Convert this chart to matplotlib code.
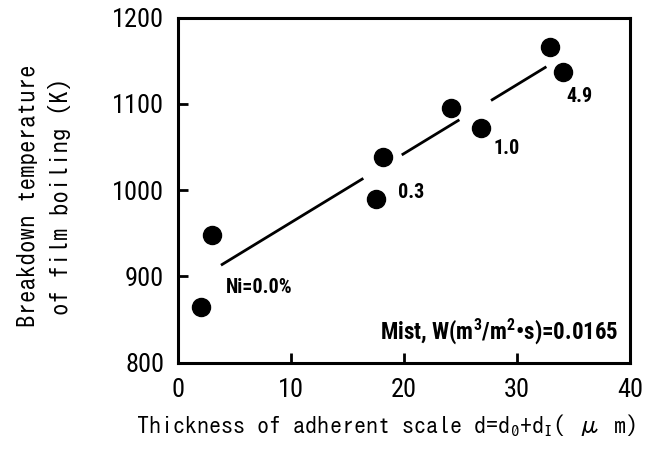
import matplotlib
matplotlib.use('Agg')
import matplotlib.pyplot as plt
import numpy as np

# measured points (thickness um, temperature K)
thickness = [2.0, 3.0, 17.5, 18.1, 24.2, 26.8, 32.9, 34.1]
temperature = [865, 948, 990, 1038, 1095, 1072, 1166, 1137]

# fitted trend line, drawn in broken pieces
fit_x = [3.8, 32.6]
fit_y = [913, 1143]
pieces = [(3.8, 16.4), (19.8, 24.9), (27.7, 32.6)]

notes = ['Ni=0.0%', '0.3', '1.0', '4.9']
note_x = [4.2, 19.5, 27.9, 34.4]
note_y = [887, 997, 1048, 1108]

xticks = [0, 10, 20, 30, 40]
yticks = [800, 900, 1000, 1100, 1200]

gothic = ['IPAGothic', 'DejaVu Sans Mono']
narrow = ['Roboto Condensed', 'Archivo Narrow', 'DejaVu Sans']

plt.rcParams['mathtext.fontset'] = 'custom'
plt.rcParams['mathtext.rm'] = 'IPAGothic'
plt.rcParams['mathtext.it'] = 'IPAGothic'
plt.rcParams['mathtext.bf'] = 'Roboto Condensed:bold'

fig = plt.figure(figsize=(6.71, 4.5), dpi=100)
ax = fig.add_axes([0.2653, 0.194, 0.6736, 0.767])

for a, b in pieces:
    ya = np.interp(a, fit_x, fit_y)
    yb = np.interp(b, fit_x, fit_y)
    ax.plot([a, b], [ya, yb], color='black', lw=2.0, solid_capstyle='butt')

ax.plot(thickness, temperature, 'o', color='black', ms=13, mec='black')

for t, x, y in zip(notes, note_x, note_y):
    ax.text(x, y, t, fontsize=14.5, family=narrow, fontweight='bold', va='center', ha='left')

ax.text(39.0, 837, 'Mist, W(m$^{\\mathbf{3}}$/m$^{\\mathbf{2}}$•s)=0.0165', fontsize=16.5, family=narrow,
        fontweight='bold', ha='right', va='center')

ax.set_xlim(0, 40)
ax.set_ylim(800, 1200)
ax.set_xticks(xticks)
ax.set_yticks(yticks)
for lab in ax.get_xticklabels() + ax.get_yticklabels():
    lab.set_family(narrow)
    lab.set_fontsize(19)
ax.tick_params(direction='in', length=7, width=2)
ax.tick_params(axis='y', pad=10)
ax.tick_params(axis='x', pad=11)
for s in ax.spines.values():
    s.set_linewidth(2.2)

ax.set_xlabel('Thickness of adherent scale d=d$_0$+d$_{\\rm I}$( μ m)', family=gothic, fontsize=17.4)
ax.set_ylabel('Breakdown temperature\nof film boiling (K)', family=gothic, fontsize=18,
              linespacing=1.5)
ax.xaxis.label.set_va('center')
ax.yaxis.label.set_va('center')
ax.xaxis.set_label_coords(0.46, -0.18)
ax.yaxis.set_label_coords(-0.296, 0.483)

fig.savefig('out.png', dpi=100)
